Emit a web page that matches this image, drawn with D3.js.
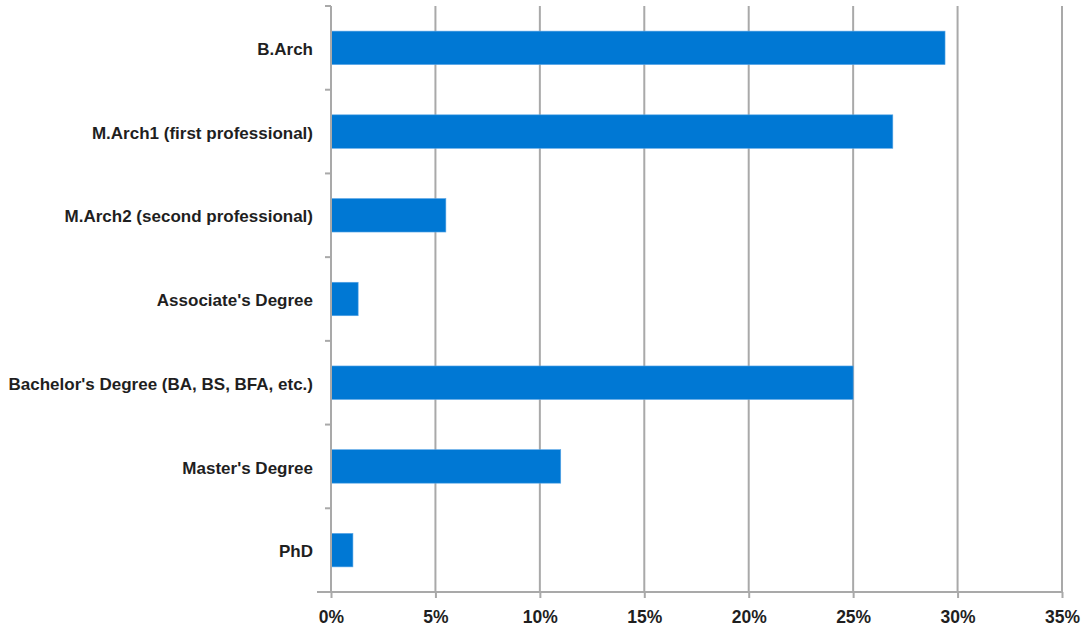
<!DOCTYPE html>
<html>
<head>
<meta charset="utf-8">
<script src="https://cdn.jsdelivr.net/npm/d3@7"></script>
<style>
  html, body { margin: 0; padding: 0; background: #fff; }
  svg text { font-family: "Liberation Sans", Arial, sans-serif; font-weight: bold; fill: #1f1f1f; }
</style>
</head>
<body>
<svg id="chart" width="1086" height="631"></svg>
<script>
const categories = [
  "B.Arch",
  "M.Arch1 (first professional)",
  "M.Arch2 (second professional)",
  "Associate's Degree",
  "Bachelor's Degree (BA, BS, BFA, etc.)",
  "Master's Degree",
  "PhD"
];
const values = [29.4, 26.9, 5.5, 1.3, 25.0, 11.0, 1.05];
const xTicks = [0, 5, 10, 15, 20, 25, 30, 35];

const svg = d3.select("#chart");
const mLeft = 331, mRight = 1062, mTop = 6, mBottom = 592;

const x = d3.scaleLinear().domain([0, 35]).range([mLeft, mRight]);
const y = d3.scaleBand().domain(categories).range([mTop, mBottom]).paddingInner(0.6).paddingOuter(0.3);

const grid = "#a9a9a9";

// gridlines
svg.append("g").selectAll("line").data(xTicks.slice(1)).join("line")
  .attr("x1", d => x(d)).attr("x2", d => x(d))
  .attr("y1", mTop).attr("y2", mBottom)
  .attr("stroke", grid).attr("stroke-width", 2);

// bars
svg.append("g").selectAll("rect").data(values).join("rect")
  .attr("x", x(0))
  .attr("y", (d, i) => y(categories[i]))
  .attr("width", d => x(d) - x(0))
  .attr("height", y.bandwidth())
  .attr("fill", "#0078d4")
  .attr("stroke", "#5aa6e6").attr("stroke-width", 0.6);

// x axis
const xAxis = svg.append("g").attr("transform", `translate(0,${mBottom})`)
  .call(d3.axisBottom(x).tickValues(xTicks).tickFormat(d => d + "%").tickSize(6).tickSizeOuter(0).tickPadding(13));
xAxis.select(".domain").attr("stroke", grid).attr("stroke-width", 2).attr("d", `M${mLeft - 14},0H${mRight}`);
xAxis.selectAll(".tick line").attr("stroke", grid).attr("stroke-width", 2);
xAxis.selectAll(".tick text").attr("font-size", 17.5).attr("fill", "#1f1f1f");

// y axis (ticks at band boundaries)
const bounds = d3.range(categories.length + 1).map(i => mTop + i * (mBottom - mTop) / categories.length);
svg.append("line").attr("x1", mLeft).attr("x2", mLeft).attr("y1", mTop).attr("y2", mBottom)
  .attr("stroke", grid).attr("stroke-width", 2);
svg.append("g").selectAll("line").data(bounds).join("line")
  .attr("x1", mLeft - 6).attr("x2", mLeft).attr("y1", d => d).attr("y2", d => d)
  .attr("stroke", grid).attr("stroke-width", 2);

// category labels
svg.append("g").selectAll("text").data(categories).join("text")
  .attr("x", mLeft - 18)
  .attr("y", d => y(d) + y.bandwidth() / 2)
  .attr("dy", "0.42em")
  .attr("text-anchor", "end")
  .attr("font-size", 17)
  .text(d => d);
</script>
</body>
</html>
